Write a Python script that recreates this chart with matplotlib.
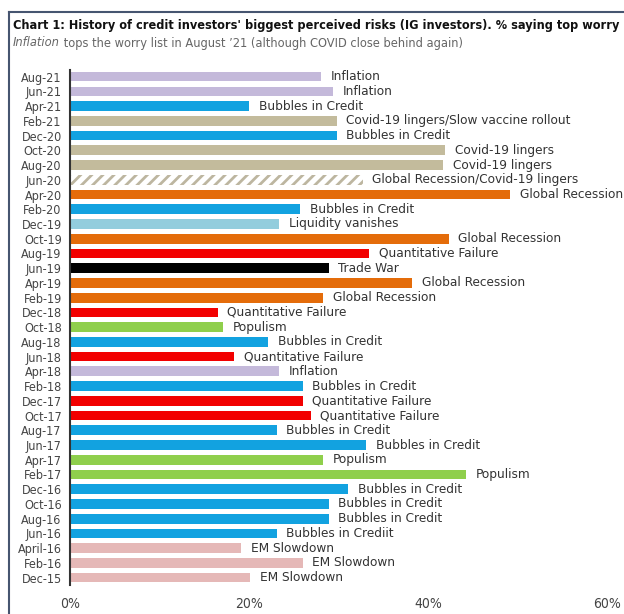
import matplotlib.pyplot as plt
from matplotlib.lines import Line2D

# survey dates, newest first
dates = ['Aug-21', 'Jun-21', 'Apr-21', 'Feb-21', 'Dec-20', 'Oct-20', 'Aug-20', 'Jun-20',
         'Apr-20', 'Feb-20', 'Dec-19', 'Oct-19', 'Aug-19', 'Jun-19', 'Apr-19', 'Feb-19',
         'Dec-18', 'Oct-18', 'Aug-18', 'Jun-18', 'Apr-18', 'Feb-18', 'Dec-17', 'Oct-17',
         'Aug-17', 'Jun-17', 'Apr-17', 'Feb-17', 'Dec-16', 'Oct-16', 'Aug-16', 'Jun-16',
         'April-16', 'Feb-16', 'Dec-15']

# % of investors naming the risk as their top worry
values = [28.1, 29.4, 20.0, 29.8, 29.8, 41.9, 41.7, 32.7,
          49.2, 25.7, 23.4, 42.3, 33.4, 28.9, 38.2, 28.3,
          16.5, 17.1, 22.1, 18.3, 23.4, 26.0, 26.0, 26.9,
          23.1, 33.1, 28.3, 44.2, 31.1, 28.9, 28.9, 23.1,
          19.1, 26.0, 20.1]

risks = ['Inflation', 'Inflation', 'Bubbles in Credit', 'Covid-19 lingers/Slow vaccine rollout',
         'Bubbles in Credit', 'Covid-19 lingers', 'Covid-19 lingers',
         'Global Recession/Covid-19 lingers', 'Global Recession', 'Bubbles in Credit',
         'Liquidity vanishes', 'Global Recession', 'Quantitative Failure', 'Trade War',
         'Global Recession', 'Global Recession', 'Quantitative Failure', 'Populism',
         'Bubbles in Credit', 'Quantitative Failure', 'Inflation', 'Bubbles in Credit',
         'Quantitative Failure', 'Quantitative Failure', 'Bubbles in Credit',
         'Bubbles in Credit', 'Populism', 'Populism', 'Bubbles in Credit', 'Bubbles in Credit',
         'Bubbles in Credit', 'Bubbles in Crediit', 'EM Slowdown', 'EM Slowdown', 'EM Slowdown']

risk_colors = {
    'Inflation': '#c4b9da',
    'Bubbles in Credit': '#12a2e0',
    'Bubbles in Crediit': '#12a2e0',
    'Covid-19 lingers/Slow vaccine rollout': '#c3bb9c',
    'Covid-19 lingers': '#c3bb9c',
    'Global Recession/Covid-19 lingers': 'white',
    'Global Recession': '#e46c0a',
    'Liquidity vanishes': '#93cddd',
    'Quantitative Failure': '#f20000',
    'Trade War': '#000000',
    'Populism': '#8fcf4c',
    'EM Slowdown': '#e5b8b7',
}

plt.rcParams['font.family'] = ['DejaVu Sans']
plt.rcParams['font.stretch'] = 'condensed'
plt.rcParams['hatch.linewidth'] = 2.0

fig = plt.figure(figsize=(6.24, 6.14), dpi=100)
ax = fig.add_axes([70 / 624, 29 / 614, 537 / 624, 515 / 614])

ypos = list(range(len(dates)))
bars = ax.barh(ypos, values, height=0.66, color=[risk_colors[r] for r in risks])

for bar, risk, val, yy in zip(bars, risks, values, ypos):
    if risk == 'Global Recession/Covid-19 lingers':
        bar.set_hatch('///')
        bar.set_edgecolor('#bdb6a0')
        bar.set_linewidth(0)
    ax.annotate(risk, xy=(val, yy), xytext=(7, 0), textcoords='offset points',
                va='center', ha='left', fontsize=9.7, color='#333333',
                annotation_clip=False)

ax.set_xlim(0, 60)
ax.set_ylim(34.5, -0.45)
ax.set_yticks(ypos, dates)
ax.set_xticks([0, 20, 40, 60], ['0%', '20%', '40%', '60%'])
ax.tick_params(axis='y', length=0, pad=6, labelsize=9, labelcolor='#444444')
ax.tick_params(axis='x', length=0, pad=9, labelsize=10, labelcolor='#444444')
for side in ['top', 'right', 'bottom']:
    ax.spines[side].set_visible(False)
ax.spines['left'].set_color('#333333')
ax.spines['left'].set_linewidth(1.5)

# box around the chart
frame = '#465570'
fig.add_artist(Line2D([9 / 624, 9 / 624], [0, 1 - 12 / 614], color=frame, lw=1.5))
fig.add_artist(Line2D([9 / 624, 1], [1 - 12 / 614, 1 - 12 / 614], color=frame, lw=1.5))

fig.text(13 / 624, 1 - 25 / 614,
         "Chart 1: History of credit investors' biggest perceived risks (IG investors). % saying top worry",
         fontsize=9.1, fontweight='bold', color='#111111', va='center', ha='left')
sub = fig.text(13 / 624, 1 - 43 / 614, 'Inflation', fontsize=9.2, style='italic',
               color='#666666', va='center', ha='left')
ax.annotate(' tops the worry list in August \u201921 (although COVID close behind again)',
            xy=(1, 0), xycoords=sub, va='bottom', ha='left', fontsize=9.2, color='#666666')

fig.savefig('out.png', dpi=100)
